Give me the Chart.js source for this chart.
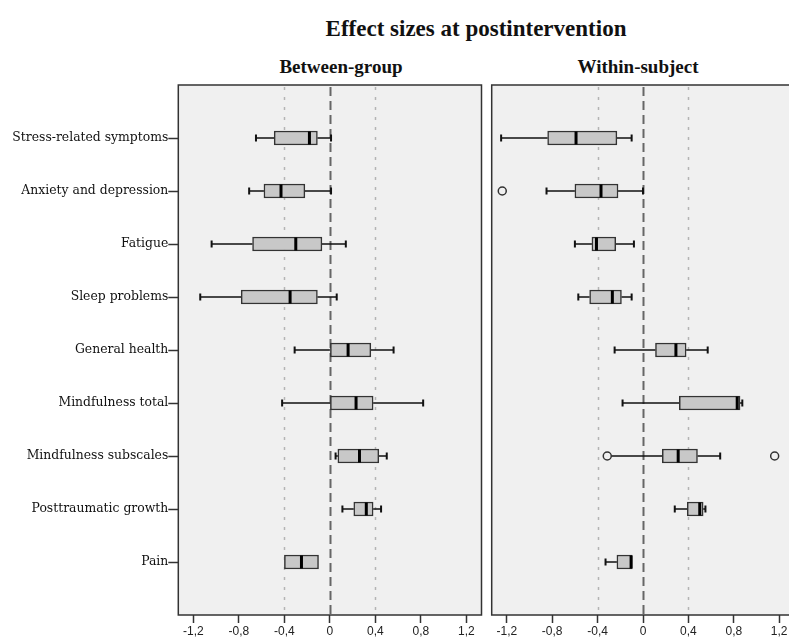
<!DOCTYPE html>
<html>
<head>
<meta charset="utf-8">
<script src="https://cdn.jsdelivr.net/npm/chart.js@4/dist/chart.umd.min.js"></script>
<style>
    body { margin: 0; background: #fff; }
    #wrap { position: relative; width: 789px; height: 640px; overflow: hidden; }
    canvas { position: absolute; top: 0; }
    .titulo { position: absolute; font-family: "Liberation Serif", serif; font-weight: bold; color: #111; white-space: nowrap; transform: translate(-50%, -50%); }
</style>
</head>
<body>
<div id="wrap">
    <div class="titulo" style="left:476px; top:29px; font-size:23px;">Effect sizes at postintervention</div>
    <div class="titulo" style="left:341px; top:67px; font-size:19px;">Between-group</div>
    <div class="titulo" style="left:638px; top:67px; font-size:19px;">Within-subject</div>
    <canvas id="betweenGroup" width="483" height="640" style="left:0"></canvas>
    <canvas id="withinSubject" width="330" height="640" style="left:482px"></canvas>
</div>
<script>
// Categories (top to bottom)
const categories = ['Stress-related symptoms', 'Anxiety and depression', 'Fatigue', 'Sleep problems', 'General health',
    'Mindfulness total', 'Mindfulness subscales', 'Posttraumatic growth', 'Pain'];
const xTicks = [-1.2, -0.8, -0.4, 0, 0.4, 0.8, 1.2];
const refLines = [-0.4, 0, 0.4];

// Between-group effect sizes
const betweenLow = [-0.65, -0.71, -1.04, -1.14, -0.31, -0.42, 0.05, 0.11, -0.40];
const betweenQ1 = [-0.49, -0.58, -0.68, -0.78, 0.00, 0.00, 0.07, 0.21, -0.40];
const betweenMedian = [-0.18, -0.43, -0.30, -0.35, 0.16, 0.23, 0.26, 0.32, -0.25];
const betweenQ3 = [-0.11, -0.22, -0.07, -0.11, 0.36, 0.38, 0.43, 0.38, -0.10];
const betweenHigh = [0.01, 0.01, 0.14, 0.06, 0.56, 0.82, 0.50, 0.45, -0.10];

// Within-subject effect sizes
const withinLow = [-1.25, -0.85, -0.60, -0.57, -0.25, -0.18, -0.30, 0.28, -0.33];
const withinQ1 = [-0.84, -0.60, -0.45, -0.47, 0.11, 0.32, 0.17, 0.39, -0.23];
const withinMedian = [-0.59, -0.37, -0.41, -0.27, 0.29, 0.83, 0.31, 0.50, -0.105];
const withinQ3 = [-0.23, -0.22, -0.24, -0.19, 0.38, 0.855, 0.48, 0.53, -0.095];
const withinHigh = [-0.10, 0.00, -0.08, -0.10, 0.57, 0.875, 0.68, 0.55, -0.095];
const withinOutlierCats = ['Anxiety and depression', 'Mindfulness subscales', 'Mindfulness subscales'];
const withinOutlierValues = [-1.24, -0.315, 1.16];

// Labels padded with an empty slot above and below
const yLabels = [''].concat(categories, ['']);

const formatTick = (v) => v === 0 ? '0' : v.toFixed(1).replace('.', ',');

// Plugin: panel background, reference lines, whiskers and medians
const boxPlugin = {
    id: 'boxplot',
    beforeDraw(chart) {
        const { ctx, chartArea: a } = chart;
        ctx.save();
        ctx.fillStyle = '#f0f0f0';
        ctx.fillRect(a.left, a.top, a.right - a.left, a.bottom - a.top);
        ctx.restore();
    },
    beforeDatasetsDraw(chart) {
        const { ctx, chartArea: a, scales } = chart;
        const opts = chart.options.plugins.boxplot;
        ctx.save();
        refLines.forEach(v => {
            const x = Math.round(scales.x.getPixelForValue(v)) + 0.5;
            if (v === 0) {
                ctx.strokeStyle = '#666';
                ctx.lineWidth = 2;
                ctx.setLineDash([9, 5]);
            } else {
                ctx.strokeStyle = '#b4b4b4';
                ctx.lineWidth = 1.5;
                ctx.setLineDash([3, 7]);
            }
            ctx.beginPath();
            ctx.moveTo(x, a.top + 2);
            ctx.lineTo(x, a.bottom);
            ctx.stroke();
        });
        ctx.setLineDash([]);
        ctx.strokeStyle = '#111';
        categories.forEach((c, i) => {
            const y = scales.y.getPixelForValue(i + 1);
            const xl = scales.x.getPixelForValue(opts.low[i]);
            const x1 = scales.x.getPixelForValue(opts.q1[i]);
            const x3 = scales.x.getPixelForValue(opts.q3[i]);
            const xh = scales.x.getPixelForValue(opts.high[i]);
            ctx.lineWidth = 1.5;
            ctx.beginPath();
            ctx.moveTo(xl, y); ctx.lineTo(x1, y);
            ctx.moveTo(x3, y); ctx.lineTo(xh, y);
            ctx.stroke();
            ctx.lineWidth = 2;
            ctx.beginPath();
            if (opts.low[i] < opts.q1[i]) { ctx.moveTo(xl, y - 3.5); ctx.lineTo(xl, y + 3.5); }
            if (opts.high[i] > opts.q3[i]) { ctx.moveTo(xh, y - 3.5); ctx.lineTo(xh, y + 3.5); }
            ctx.stroke();
        });
        ctx.restore();
    },
    afterDatasetsDraw(chart) {
        const { ctx, chartArea: a, scales } = chart;
        const opts = chart.options.plugins.boxplot;
        ctx.save();
        ctx.strokeStyle = '#000';
        ctx.lineWidth = 3;
        categories.forEach((c, i) => {
            const y = scales.y.getPixelForValue(i + 1);
            const xm = scales.x.getPixelForValue(opts.median[i]);
            ctx.beginPath();
            ctx.moveTo(xm, y - 6.5);
            ctx.lineTo(xm, y + 6.5);
            ctx.stroke();
        });
        // panel frame
        ctx.strokeStyle = '#333';
        ctx.lineWidth = 1.5;
        ctx.strokeRect(a.left, a.top, a.right - a.left, a.bottom - a.top);
        ctx.restore();
    }
};

// Function to create one box plot panel
const criarPainel = (elementoId, stats, outliers, showLabels) => {
    const contexto = document.getElementById(elementoId).getContext('2d');
    const datasets = [{
        type: 'bar',
        data: categories.map((c, i) => ({ y: c, x: [stats.q1[i], stats.q3[i]] })),
        backgroundColor: '#c8c8c8',
        borderColor: '#333',
        borderWidth: 1.5,
        borderSkipped: false,
        barThickness: 14
    }];
    if (outliers) {
        datasets.push({
            type: 'scatter',
            data: outliers.cats.map((c, i) => ({ x: outliers.values[i], y: c })),
            pointStyle: 'circle',
            pointRadius: 4,
            pointBackgroundColor: '#f0f0f0',
            pointBorderColor: '#333',
            pointBorderWidth: 1.5
        });
    }

    new Chart(contexto, {
        type: 'bar',
        data: { labels: yLabels, datasets: datasets },
        plugins: [boxPlugin],
        options: {
            indexAxis: 'y',
            responsive: false,
            animation: false,
            layout: { padding: { top: 85, right: showLabels ? 1.5 : 17.7, left: 0, bottom: 0 } },
            plugins: {
                legend: { display: false },
                tooltip: { enabled: false },
                boxplot: stats
            },
            scales: {
                x: {
                    type: 'linear',
                    min: -1.333,
                    max: 1.333,
                    afterBuildTicks: (s) => { s.ticks = xTicks.map(v => ({ value: v })); },
                    afterFit: (s) => { s.height = 25; },
                    grid: { drawOnChartArea: false, drawTicks: true, tickLength: 8, tickColor: '#333', tickWidth: 1.5 },
                    border: { display: false },
                    ticks: {
                        padding: 1,
                        color: '#222',
                        font: { family: 'Liberation Sans', size: 12 },
                        callback: (v) => formatTick(v),
                        maxRotation: 0,
                        autoSkip: false
                    }
                },
                y: {
                    type: 'category',
                    offset: false,
                    afterFit: (s) => { s.width = showLabels ? 178.3 : 9.7; },
                    grid: {
                        offset: false,
                        drawOnChartArea: false,
                        display: showLabels,
                        tickLength: 10,
                        tickWidth: 1.5,
                        tickColor: (ctx) => (ctx.index === 0 || ctx.index === yLabels.length - 1) ? 'rgba(0,0,0,0)' : '#333'
                    },
                    border: { display: false },
                    ticks: {
                        display: showLabels,
                        padding: 0,
                        color: '#111',
                        font: { family: 'DejaVu Serif', size: 12.4 },
                        autoSkip: false
                    }
                }
            }
        }
    });
};

criarPainel('betweenGroup',
    { low: betweenLow, q1: betweenQ1, median: betweenMedian, q3: betweenQ3, high: betweenHigh },
    null, true);
criarPainel('withinSubject',
    { low: withinLow, q1: withinQ1, median: withinMedian, q3: withinQ3, high: withinHigh },
    { cats: withinOutlierCats, values: withinOutlierValues }, false);
</script>
</body>
</html>
